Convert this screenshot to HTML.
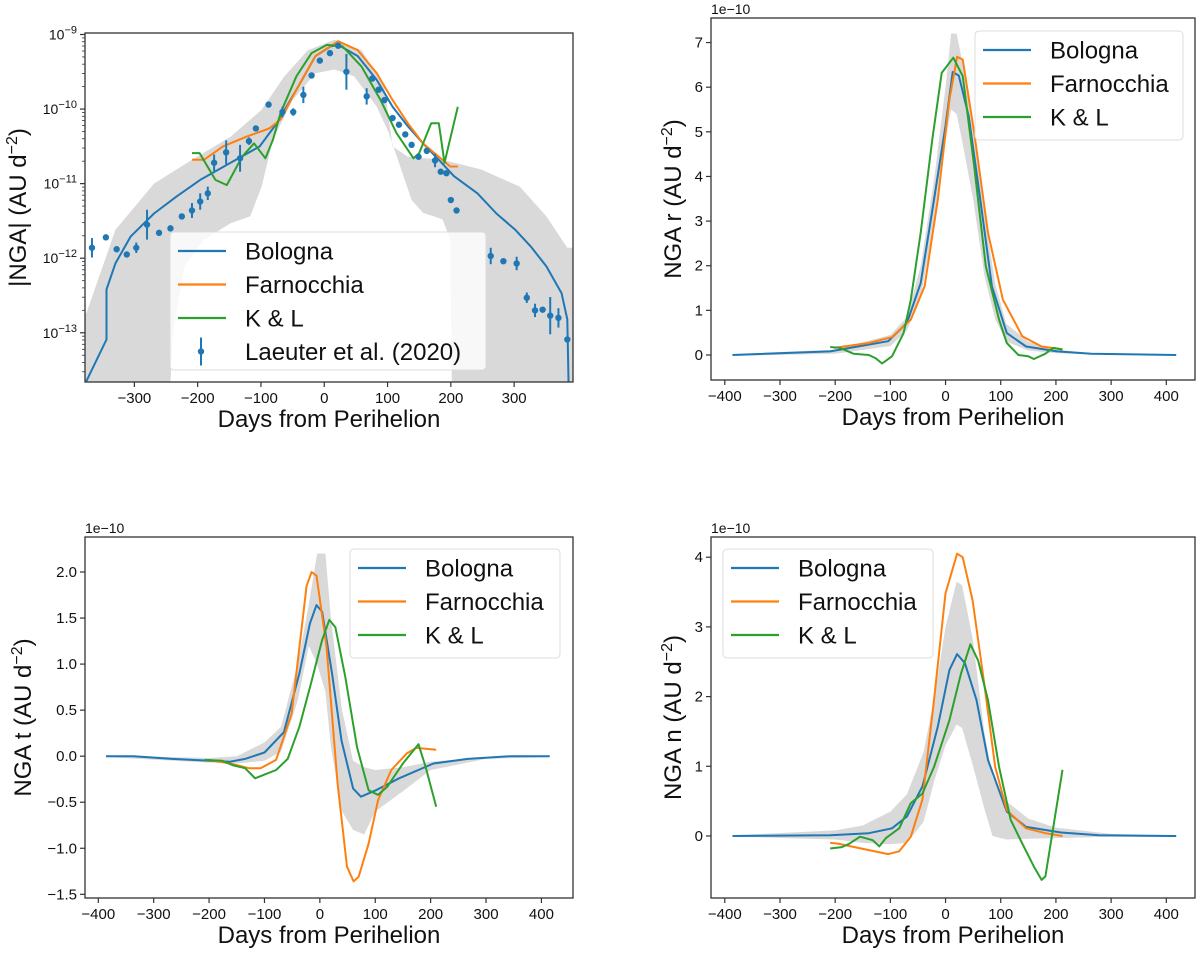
<!DOCTYPE html>
<html><head><meta charset="utf-8"><style>
html,body{margin:0;padding:0;background:#fff;}
svg{display:block;font-family:"Liberation Sans","DejaVu Sans",sans-serif;}
</style></head><body>
<svg id="fig" width="1200" height="954" viewBox="0 0 1200 954" xmlns="http://www.w3.org/2000/svg"></svg>
<script>
// ---------- Panel A: |NGA| (log) ----------
const aBolX=[-376,-344,-344,-330,-306,-269,-233,-196,-148,-102,-75,-44,-14,10,22,53,83,108,132,156,181,205,242,272,302,326,351,375,384,386];
const aBolY=[-13.65,-13.09,-12.42,-12.07,-11.71,-11.40,-11.17,-10.95,-10.72,-10.50,-10.19,-9.74,-9.29,-9.16,-9.14,-9.29,-9.61,-9.97,-10.23,-10.46,-10.68,-10.90,-11.13,-11.40,-11.62,-11.84,-12.11,-12.47,-12.82,-13.70];
const aFarX=[-209,-190,-160,-123,-87,-69,-44,-14,22,53,83,108,132,156,181,199,211];
const aFarY=[-10.68,-10.68,-10.50,-10.37,-10.26,-10.14,-9.74,-9.29,-9.09,-9.21,-9.52,-9.88,-10.19,-10.46,-10.64,-10.77,-10.77];
const aKLX=[-209,-197,-172,-154,-130,-111,-93,-81,-69,-44,-20,4,29,59,89,114,141,150,169,181,190,211];
const aKLY=[-10.59,-10.59,-10.95,-11.02,-10.64,-10.46,-10.66,-10.41,-10.05,-9.56,-9.25,-9.14,-9.16,-9.43,-9.88,-10.32,-10.66,-10.59,-10.19,-10.19,-10.72,-9.97];
const aBandX=[-378,-376,-330,-269,-209,-148,-99,-63,-26,16,59,95,108,132,187,248,309,351,384,394];
const aBandHi=[-12.74,-12.74,-11.62,-11.0,-10.68,-10.37,-10.01,-9.56,-9.21,-9.07,-9.21,-9.70,-10.50,-10.64,-10.68,-10.81,-11.04,-11.44,-11.86,-11.86];
const aBandLoX=[-378,-245,-239,-221,-190,-148,-117,-99,-81,-50,-14,16,47,83,102,120,138,156,187,199,202,394];
const aBandLo=[-14,-14,-13.0,-12.11,-11.75,-11.53,-11.44,-11.04,-10.41,-9.88,-9.52,-9.47,-9.56,-9.97,-10.32,-10.77,-11.22,-11.39,-11.48,-11.75,-14,-14];
const obsX=[-367,-345,-328,-312,-297,-280,-261,-243,-225,-209,-196,-184,-174,-155,-133,-119,-108,-88,-66,-49,-33,-20,-7,9,22,35,67,76,86,95,108,118,128,138,149,162,175,184,193,200,209,263,283,304,320,333,345,357,370,384];
const obsY=[-11.86,-11.72,-11.88,-11.95,-11.86,-11.55,-11.66,-11.60,-11.44,-11.36,-11.24,-11.13,-10.72,-10.58,-10.66,-10.43,-10.26,-9.94,-10.04,-10.04,-9.81,-9.55,-9.35,-9.25,-9.15,-9.50,-9.83,-9.59,-9.74,-9.88,-10.12,-10.21,-10.34,-10.48,-10.64,-10.56,-10.69,-10.84,-10.86,-11.22,-11.36,-11.97,-12.04,-12.07,-12.53,-12.70,-12.69,-12.77,-12.80,-13.09];
const obsErr=[0.13,0.02,0.02,0.02,0.07,0.2,0.02,0.02,0.02,0.1,0.11,0.09,0.11,0.16,0.18,0.05,0.02,0.02,0.07,0.05,0.11,0.02,0.02,0.02,0.02,0.24,0.11,0.02,0.02,0.02,0.02,0.02,0.02,0.02,0.02,0.02,0.09,0.02,0.02,0.02,0.02,0.11,0.02,0.09,0.07,0.09,0.02,0.25,0.13,0.02];
const aTicksY=[-9,-10,-11,-12,-13];
const xTicksA=[-300,-200,-100,0,100,200,300];
// ---------- Panel B: NGA r ----------
const bBolX=[-386,-209,-104,-70,-45,-21,0,13,24,42,63,84,111,146,202,264,418];
const bBolY=[0,0.08,0.31,0.72,1.61,3.48,5.13,6.34,6.26,5.35,3.48,1.54,0.49,0.19,0.08,0.03,0];
const bFarX=[-202,-139,-97,-63,-38,-14,7,21,31,52,77,104,139,174,212];
const bFarY=[0.16,0.27,0.40,0.79,1.54,3.48,5.72,6.68,6.62,4.98,2.74,1.24,0.42,0.19,0.13];
const bKLX=[-209,-191,-167,-139,-127,-115,-97,-76,-63,-45,-24,-7,14,31,52,73,97,111,132,150,160,181,195,212];
const bKLY=[0.18,0.16,0.03,0,-0.07,-0.19,-0.03,0.49,1.24,2.74,4.83,6.32,6.66,6.25,4.23,1.99,0.79,0.27,0,-0.03,-0.09,0.03,0.16,0.12];
const bBandX=[-386,-200,-100,-70,-45,-20,0,10,20,30,50,70,90,110,150,200,260,418];
const bBandHi=[0.02,0.12,0.45,0.85,2.0,4.0,6.0,7.2,7.2,6.6,5.0,3.2,1.6,0.7,0.3,0.12,0.05,0.01];
const bBandLo=[-0.02,0.03,0.2,0.55,1.3,3.0,4.8,5.5,5.4,4.8,3.5,1.8,0.8,0.3,0.1,0.04,0.02,-0.01];
const bTicksY=[0,1,2,3,4,5,6,7];
const xTicksB=[-400,-300,-200,-100,0,100,200,300,400];
// ---------- Panel C: NGA t ----------
const cBolX=[-386,-336,-267,-162,-135,-100,-65,-37,-18,-6,4,22,39,60,74,101,143,205,267,344,415];
const cBolY=[0,0,-0.03,-0.06,-0.03,0.04,0.26,0.90,1.44,1.64,1.57,0.90,0.17,-0.35,-0.44,-0.37,-0.24,-0.08,-0.03,0,0];
const cFarX=[-201,-162,-128,-107,-79,-51,-24,-15,-6,12,32,49,61,70,88,105,129,157,174,191,210];
const cFarY=[-0.04,-0.08,-0.13,-0.13,-0.04,0.46,1.85,2.0,1.96,1.19,-0.30,-1.20,-1.36,-1.31,-0.95,-0.48,-0.15,0.03,0.09,0.08,0.07];
const cKLX=[-208,-176,-156,-135,-117,-100,-79,-58,-37,-16,4,17,28,46,67,88,105,122,150,178,191,210];
const cKLY=[-0.04,-0.05,-0.10,-0.13,-0.24,-0.20,-0.15,-0.03,0.32,0.79,1.26,1.48,1.40,0.86,0.10,-0.37,-0.42,-0.33,-0.08,0.13,-0.12,-0.55];
const cBandX=[-386,-200,-150,-100,-70,-40,-20,-5,10,20,40,60,80,100,150,200,300,415];
const cBandHi=[0.01,-0.02,0.0,0.15,0.32,1.0,1.65,2.2,2.2,1.5,0.5,-0.05,-0.12,-0.15,-0.12,-0.06,-0.01,0.01];
const cBandLo=[-0.01,-0.07,-0.08,-0.05,0.05,0.6,1.2,1.0,0.7,0.1,-0.6,-0.8,-0.85,-0.6,-0.38,-0.15,-0.03,-0.01];
const cTicksY=[-1.5,-1.0,-0.5,0.0,0.5,1.0,1.5,2.0];
// ---------- Panel D: NGA n ----------
const dBolX=[-386,-209,-139,-97,-70,-42,-14,7,21,35,56,77,111,146,209,278,418];
const dBolY=[0,0.01,0.04,0.11,0.28,0.71,1.57,2.38,2.61,2.48,1.95,1.09,0.35,0.13,0.05,0.01,0];
const dFarX=[-209,-195,-153,-104,-84,-63,-42,-21,0,21,31,49,70,90,111,146,181,212];
const dFarY=[-0.10,-0.11,-0.18,-0.26,-0.22,-0.01,0.52,1.95,3.48,4.05,4.0,3.38,2.19,0.99,0.37,0.11,0.04,0];
const dKLX=[-209,-188,-174,-155,-132,-120,-108,-84,-63,-42,-21,7,28,45,59,77,97,118,139,160,174,181,212];
const dKLY=[-0.18,-0.16,-0.11,-0.01,-0.06,-0.15,-0.03,0.11,0.47,0.61,0.99,1.66,2.33,2.75,2.52,1.95,0.99,0.23,-0.11,-0.44,-0.63,-0.58,0.95];
const dBandX=[-386,-200,-150,-100,-70,-40,-20,0,20,30,50,70,85,110,150,200,300,418];
const dBandHi=[0.01,0.08,0.15,0.35,0.6,1.2,2.0,3.0,3.65,3.6,2.8,1.5,0.85,0.5,0.25,0.12,0.03,0.01];
const dBandLo=[-0.01,-0.05,-0.1,-0.12,-0.1,0.2,0.8,1.3,1.6,1.55,1.0,0.4,0.0,-0.05,-0.04,-0.03,-0.01,-0.01];
const dTicksY=[0,1,2,3,4];

const NS="http://www.w3.org/2000/svg";
const fig=document.getElementById('fig');
const C={blue:'#1f77b4',orange:'#ff7f0e',green:'#2ca02c',band:'#d9d9d9'};
function el(tag,attrs,parent){const e=document.createElementNS(NS,tag);for(const k in attrs)e.setAttribute(k,attrs[k]);(parent||fig).appendChild(e);return e;}
function mkScale(d0,d1,p0,p1){return v=>p0+(v-d0)/(d1-d0)*(p1-p0);}
function pathFrom(xs,ys,sx,sy){return xs.map((x,i)=>(i?'L':'M')+sx(x).toFixed(1)+','+sy(ys[i]).toFixed(1)).join('');}

function panel(cfg){
  const g=el('g',{});
  
  
  const sx=mkScale(cfg.xmin,cfg.xmax,cfg.L,cfg.R);
  const sy=mkScale(cfg.ymin,cfg.ymax,cfg.B,cfg.T);
  const cid='clip-'+cfg.name;
  const cp=el('clipPath',{id:cid},g);el('rect',{x:cfg.L,y:cfg.T,width:cfg.R-cfg.L,height:cfg.B-cfg.T},cp);
  const pg=el('g',{'clip-path':'url(#'+cid+')'},g);
  const bx=cfg.band.x, bhi=cfg.band.hi, blx=cfg.band.lox||bx, blo=cfg.band.lo;
  let d=pathFrom(bx,bhi,sx,sy);
  for(let i=blx.length-1;i>=0;i--)d+='L'+sx(blx[i]).toFixed(1)+','+sy(blo[i]).toFixed(1);
  const band=el('path',{d:d+'Z',fill:C.band,stroke:'none'},pg);
  
  
  cfg.series.forEach(s=>{
    const p=el('path',{d:pathFrom(s.x,s.y,sx,sy),fill:'none',stroke:s.color,'stroke-width':2,'stroke-linejoin':'round'},pg);
    
    
  });
  if(cfg.obs){
    const og=el('g',{},pg);
    
    
    cfg.obs.x.forEach((x,i)=>{
      const y=cfg.obs.y[i],e=cfg.obs.e[i];
      el('line',{x1:sx(x),x2:sx(x),y1:sy(y-e),y2:sy(y+e),stroke:C.blue,'stroke-width':2},og);
      el('circle',{cx:sx(x),cy:sy(y),r:3.2,fill:C.blue},og);
    });
  }
  const fr=el('rect',{x:cfg.L,y:cfg.T,width:cfg.R-cfg.L,height:cfg.B-cfg.T,fill:'none',stroke:'#333','stroke-width':1.3},g);
  
  
  const xt=el('g',{'font-size':'15px','text-anchor':'middle',fill:'#111'},g);
  
  
  cfg.xticks.forEach(t=>{
    el('line',{x1:sx(t),x2:sx(t),y1:cfg.B,y2:cfg.B+5,stroke:'#333','stroke-width':1.2},xt);
    const tx=el('text',{x:sx(t),y:cfg.B+21},xt);tx.textContent=(t<0?'\u2212':'')+Math.abs(t);
  });
  const yt=el('g',{'font-size':'15px','text-anchor':'end',fill:'#111'},g);
  
  
  cfg.yticks.forEach(t=>{
    const y=sy(t);
    el('line',{x1:cfg.L-5,x2:cfg.L,y1:y,y2:y,stroke:'#333','stroke-width':1.2},yt);
    const tx=el('text',{x:cfg.L-8,y:y+5},yt);
    if(cfg.log){
      tx.setAttribute('font-size','14px');
      const a=el('tspan',{},tx);a.textContent='10';
      const b=el('tspan',{dy:-6,'font-size':'11px'},tx);b.textContent='\u2212'+Math.abs(t);
    } else {
      tx.textContent=(t<0?'\u2212':'')+(cfg.dec?Math.abs(t).toFixed(1):Math.abs(t));
    }
  });
  if(cfg.log){
    for(let k=Math.floor(cfg.ymin);k<Math.ceil(cfg.ymax);k++)for(let m=2;m<10;m++){
      const v=k+Math.log10(m);if(v<cfg.ymin||v>cfg.ymax)continue;
      el('line',{x1:cfg.L-3,x2:cfg.L,y1:sy(v),y2:sy(v),stroke:'#333','stroke-width':0.8},yt);
    }
  }
  if(cfg.offset){const o=el('text',{x:cfg.L,y:cfg.T-4,'font-size':'14px',fill:'#111'},g);o.textContent='1e\u221210';
    }
  const xl=el('text',{x:(cfg.L+cfg.R)/2,y:cfg.B+45,'font-size':'24px','text-anchor':'middle',fill:'#111'},g);
  xl.textContent='Days from Perihelion';
  
  
  const yl=el('text',{x:0,y:0,'font-size':'24px','text-anchor':'middle',fill:'#111',transform:'translate('+cfg.ylx+','+((cfg.T+cfg.B)/2)+') rotate(-90)'},g);
  const y1=el('tspan',{},yl);y1.textContent=cfg.ylabel+' (AU d';
  const y2=el('tspan',{dy:-9,'font-size':'16px'},yl);y2.textContent='\u22122';
  const y3=el('tspan',{dy:9},yl);y3.textContent=')';
  
  
  const lg=el('g',{},g);
  
  
  const L=cfg.legend;
  el('rect',{x:L.x,y:L.y,width:L.w,height:L.h,rx:4,fill:'#fff','fill-opacity':0.8,stroke:'#dcdcdc'},lg);
  L.items.forEach((it,i)=>{
    const yy=L.y+19+i*33.5;
    const e=el('g',{},lg);
    
    
    if(it.marker){el('line',{x1:L.x+31,x2:L.x+31,y1:yy-14,y2:yy+14,stroke:C.blue,'stroke-width':2},e);el('circle',{cx:L.x+31,cy:yy,r:3.2,fill:C.blue},e);}
    else el('line',{x1:L.x+8,x2:L.x+56,y1:yy,y2:yy,stroke:it.color,'stroke-width':2.2},e);
    const t=el('text',{x:L.x+75,y:yy+8.5,'font-size':'24px',fill:'#111'},e);t.textContent=it.label;
  });
}
const leg3=[{key:'bologna',label:'Bologna',color:C.blue},{key:'farnocchia',label:'Farnocchia',color:C.orange},{key:'kl',label:'K & L',color:C.green}];

panel({name:'panel-nga-magnitude',L:85,R:573,T:33,B:382,xmin:-378,xmax:393,ymin:-13.66,ymax:-8.98,log:true,
  band:{x:aBandX,hi:aBandHi,lox:aBandLoX,lo:aBandLo},
  series:[{name:'bologna-line',x:aBolX,y:aBolY,color:C.blue},{name:'farnocchia-line',x:aFarX,y:aFarY,color:C.orange},{name:'kl-line',x:aKLX,y:aKLY,color:C.green}],
  obs:{x:obsX,y:obsY,e:obsErr},xticks:xTicksA,yticks:aTicksY,ylabel:'|NGA|',ylx:26,
  legend:{x:170,y:232,w:316,h:138,items:leg3.concat([{key:'laeuter',label:'Laeuter et al. (2020)',marker:true}])}});
panel({name:'panel-nga-r',L:711,R:1195,T:18,B:380,xmin:-425,xmax:452,ymin:-0.56,ymax:7.55,
  band:{x:bBandX,hi:bBandHi,lo:bBandLo},
  series:[{name:'bologna-line',x:bBolX,y:bBolY,color:C.blue},{name:'farnocchia-line',x:bFarX,y:bFarY,color:C.orange},{name:'kl-line',x:bKLX,y:bKLY,color:C.green}],
  xticks:xTicksB,yticks:bTicksY,ylabel:'NGA r',ylx:681,offset:true,
  legend:{x:975,y:31,w:208,h:109,items:leg3}});
panel({name:'panel-nga-t',L:85,R:573,T:537,B:898,xmin:-424,xmax:457,ymin:-1.54,ymax:2.38,dec:true,
  band:{x:cBandX,hi:cBandHi,lo:cBandLo},
  series:[{name:'bologna-line',x:cBolX,y:cBolY,color:C.blue},{name:'farnocchia-line',x:cFarX,y:cFarY,color:C.orange},{name:'kl-line',x:cKLX,y:cKLY,color:C.green}],
  xticks:xTicksB,yticks:cTicksY,ylabel:'NGA t',ylx:31,offset:true,
  legend:{x:350,y:549,w:210,h:109,items:leg3}});
panel({name:'panel-nga-n',L:711,R:1195,T:537,B:898,xmin:-425,xmax:452,ymin:-0.89,ymax:4.29,
  band:{x:dBandX,hi:dBandHi,lo:dBandLo},
  series:[{name:'bologna-line',x:dBolX,y:dBolY,color:C.blue},{name:'farnocchia-line',x:dFarX,y:dFarY,color:C.orange},{name:'kl-line',x:dKLX,y:dKLY,color:C.green}],
  xticks:xTicksB,yticks:dTicksY,ylabel:'NGA n',ylx:681,offset:true,
  legend:{x:723,y:549,w:210,h:109,items:leg3}});
</script>
</body></html>
